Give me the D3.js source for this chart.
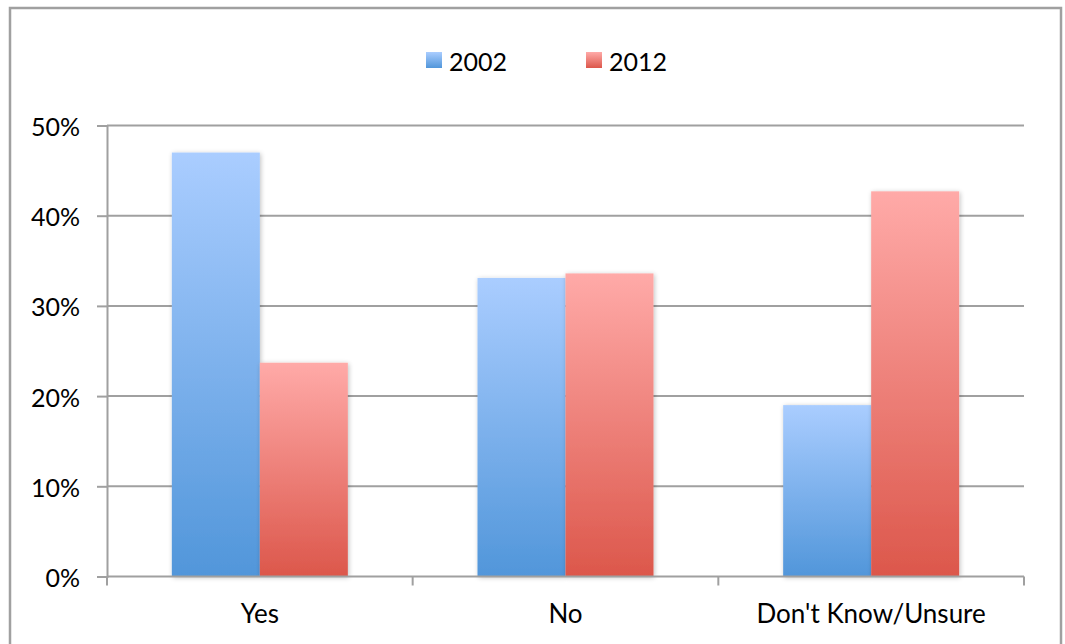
<!DOCTYPE html>
<html><head><meta charset="utf-8">
<script src="https://cdn.jsdelivr.net/npm/d3@7"></script>
<style>html,body{margin:0;padding:0;background:#fff;}svg{display:block;}</style>
</head><body>
<svg id="chart" width="1065" height="644"></svg>
<script>
const categories = ["Yes", "No", "Don't Know/Unsure"];
const seriesNames = ["2002", "2012"];
const values2002 = [47.0, 33.1, 19.0];
const values2012 = [23.7, 33.6, 42.7];
const yTicks = [0, 10, 20, 30, 40, 50];

const svg = d3.select("#chart");
const font = "Lato, 'Open Sans', sans-serif";
const gray = "#a0a0a0";
const plot = {left: 107, right: 1024, top: 125.5, bottom: 576.5};

// outer border
svg.append("rect").attr("x", 10).attr("y", 8).attr("width", 1051).attr("height", 660)
  .attr("fill", "#fff").attr("stroke", gray).attr("stroke-width", 2.5);

const defs = svg.append("defs");
function grad(id, top, bottom) {
  const g = defs.append("linearGradient").attr("id", id).attr("x1", 0).attr("y1", 0).attr("x2", 0).attr("y2", 1);
  g.append("stop").attr("offset", "0%").attr("stop-color", top);
  g.append("stop").attr("offset", "100%").attr("stop-color", bottom);
}
grad("g2002", "#aacdff", "#5196da");
grad("g2012", "#ffaaa8", "#dc574b");
const f = defs.append("filter").attr("id", "shadow").attr("x", "-20%").attr("y", "-5%").attr("width", "140%").attr("height", "110%");
f.append("feGaussianBlur").attr("in", "SourceAlpha").attr("stdDeviation", 2.5).attr("result", "b");
f.append("feOffset").attr("in", "b").attr("dx", 1).attr("dy", 1).attr("result", "o");
f.append("feComponentTransfer").attr("in", "o").attr("result", "t").append("feFuncA").attr("type", "linear").attr("slope", 0.25);
const fm = f.append("feMerge");
fm.append("feMergeNode").attr("in", "t");
fm.append("feMergeNode").attr("in", "SourceGraphic");

const y = d3.scaleLinear().domain([0, 50]).range([plot.bottom, plot.top]);
const x0 = d3.scaleBand().domain(categories).range([plot.left, plot.right]).padding(0);
const gap = (x0.step() - 176) / 2;
const x1 = d3.scaleBand().domain(seriesNames).range([gap, x0.step() - gap]).padding(0);

// gridlines
svg.append("g").selectAll("line").data(yTicks.filter(d => d > 0)).join("line")
  .attr("x1", plot.left).attr("x2", plot.right)
  .attr("y1", d => y(d)).attr("y2", d => y(d))
  .attr("stroke", gray).attr("stroke-width", 2);

// y axis
const yAxis = d3.axisLeft(y).tickValues(yTicks).tickFormat(d => d + "%").tickSize(10).tickPadding(17);
const ya = svg.append("g").attr("transform", `translate(${plot.left},0)`).call(yAxis);
ya.select(".domain").attr("stroke", gray).attr("stroke-width", 2);
ya.selectAll(".tick line").attr("stroke", gray).attr("stroke-width", 2);
ya.selectAll("text").attr("font-family", font).attr("font-size", 25).attr("fill", "#000").attr("dy", "0.4em");

// bars
const data = categories.map((c, i) => ({cat: c, vals: [values2002[i], values2012[i]]}));
const groups = svg.append("g").selectAll("g").data(data).join("g")
  .attr("transform", d => `translate(${x0(d.cat)},0)`);
groups.selectAll("rect").data(d => d.vals.map((v, j) => ({s: seriesNames[j], v}))).join("rect")
  .attr("x", d => x1(d.s)).attr("width", x1.bandwidth())
  .attr("y", d => y(d.v)).attr("height", d => y(0) - y(d.v))
  .attr("fill", d => `url(#g${d.s})`).attr("filter", "url(#shadow)");

// x axis
const xa = svg.append("g").attr("transform", `translate(0,${plot.bottom})`);
xa.append("line").attr("x1", plot.left).attr("x2", plot.right).attr("stroke", gray).attr("stroke-width", 2);
const bounds = categories.map(c => x0(c)).concat([plot.right]);
xa.selectAll(".tk").data(bounds).join("line").attr("class", "tk")
  .attr("x1", d => d).attr("x2", d => d).attr("y1", 0).attr("y2", 9)
  .attr("stroke", gray).attr("stroke-width", 2);
xa.selectAll("text").data(categories).join("text")
  .attr("x", d => x0(d) + x0.bandwidth() / 2).attr("y", 46)
  .attr("text-anchor", "middle").attr("font-family", font).attr("font-size", 26).attr("fill", "#000")
  .text(d => d);

// legend
const legX = [426, 586];
const leg = svg.append("g").selectAll("g").data(seriesNames).join("g")
  .attr("transform", (d, i) => `translate(${legX[i]},52)`);
leg.append("rect").attr("width", 16).attr("height", 16).attr("fill", d => `url(#g${d})`);
leg.append("text").attr("x", 23).attr("y", 19).attr("font-family", font).attr("font-size", 25).attr("fill", "#000").text(d => d);
</script>
</body></html>
